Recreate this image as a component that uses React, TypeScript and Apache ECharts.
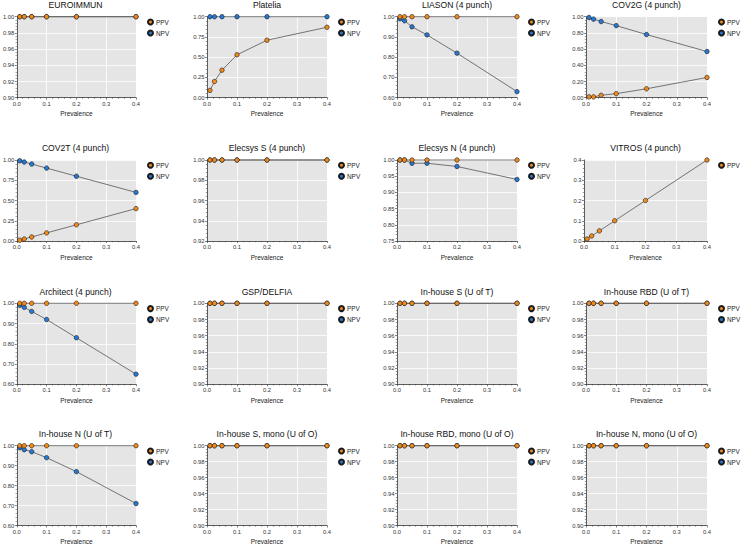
import React, { useEffect, useRef } from "react";
import * as echarts from "echarts";

const prevalence = [0.01, 0.025, 0.05, 0.1, 0.2, 0.4];

const panelTitles = [
  "EUROIMMUN",
  "Platelia",
  "LIASON (4 punch)",
  "COV2G (4 punch)",
  "COV2T (4 punch)",
  "Elecsys S (4 punch)",
  "Elecsys N (4 punch)",
  "VITROS (4 punch)",
  "Architect (4 punch)",
  "GSP/DELFIA",
  "In-house S (U of T)",
  "In-house RBD (U of T)",
  "In-house N (U of T)",
  "In-house S, mono (U of O)",
  "In-house RBD, mono (U of O)",
  "In-house N, mono (U of O)",
];

const euroimmunPPV = [1.0, 1.0, 1.0, 1.0, 1.0, 1.0];
const euroimmunNPV = [1.0, 1.0, 1.0, 1.0, 1.0, 1.0];
const plateliaPPV = [0.09, 0.2, 0.34, 0.53, 0.71, 0.87];
const plateliaNPV = [1.0, 1.0, 1.0, 1.0, 1.0, 1.0];
const liasonPPV = [1.0, 1.0, 1.0, 1.0, 1.0, 1.0];
const liasonNPV = [0.99, 0.98, 0.95, 0.91, 0.82, 0.63];
const cov2gPPV = [0.01, 0.01, 0.03, 0.05, 0.11, 0.25];
const cov2gNPV = [0.99, 0.97, 0.94, 0.89, 0.78, 0.57];
const cov2tPPV = [0.01, 0.025, 0.05, 0.1, 0.2, 0.4];
const cov2tNPV = [0.99, 0.975, 0.95, 0.9, 0.8, 0.6];
const elecsysSPPV = [1.0, 1.0, 1.0, 1.0, 1.0, 1.0];
const elecsysSNPV = [1.0, 1.0, 1.0, 1.0, 1.0, 1.0];
const elecsysNPPV = [1.0, 1.0, 1.0, 1.0, 1.0, 1.0];
const elecsysNNPV = [1.0, 1.0, 0.99, 0.99, 0.98, 0.94];
const vitrosPPV = [0.01, 0.025, 0.05, 0.1, 0.2, 0.4];
const architectPPV = [1.0, 1.0, 1.0, 1.0, 1.0, 1.0];
const architectNPV = [0.99, 0.98, 0.96, 0.92, 0.83, 0.65];
const gspPPV = [1.0, 1.0, 1.0, 1.0, 1.0, 1.0];
const gspNPV = [1.0, 1.0, 1.0, 1.0, 1.0, 1.0];
const inhouseSUofTPPV = [1.0, 1.0, 1.0, 1.0, 1.0, 1.0];
const inhouseSUofTNPV = [1.0, 1.0, 1.0, 1.0, 1.0, 1.0];
const inhouseRBDUofTPPV = [1.0, 1.0, 1.0, 1.0, 1.0, 1.0];
const inhouseRBDUofTNPV = [1.0, 1.0, 1.0, 1.0, 1.0, 1.0];
const inhouseNUofTPPV = [1.0, 1.0, 1.0, 1.0, 1.0, 1.0];
const inhouseNUofTNPV = [0.99, 0.98, 0.97, 0.94, 0.87, 0.71];
const inhouseSUofOPPV = [1.0, 1.0, 1.0, 1.0, 1.0, 1.0];
const inhouseSUofONPV = [1.0, 1.0, 1.0, 1.0, 1.0, 1.0];
const inhouseRBDUofOPPV = [1.0, 1.0, 1.0, 1.0, 1.0, 1.0];
const inhouseRBDUofONPV = [1.0, 1.0, 1.0, 1.0, 1.0, 1.0];
const inhouseNUofOPPV = [1.0, 1.0, 1.0, 1.0, 1.0, 1.0];
const inhouseNUofONPV = [1.0, 1.0, 1.0, 1.0, 1.0, 1.0];

const ppvSeries: number[][] = [
  euroimmunPPV, plateliaPPV, liasonPPV, cov2gPPV,
  cov2tPPV, elecsysSPPV, elecsysNPPV, vitrosPPV,
  architectPPV, gspPPV, inhouseSUofTPPV, inhouseRBDUofTPPV,
  inhouseNUofTPPV, inhouseSUofOPPV, inhouseRBDUofOPPV, inhouseNUofOPPV,
];
const npvSeries: (number[] | null)[] = [
  euroimmunNPV, plateliaNPV, liasonNPV, cov2gNPV,
  cov2tNPV, elecsysSNPV, elecsysNNPV, null,
  architectNPV, gspNPV, inhouseSUofTNPV, inhouseRBDUofTNPV,
  inhouseNUofTNPV, inhouseSUofONPV, inhouseRBDUofONPV, inhouseNUofONPV,
];

const yMins = [0.9, 0, 0.6, 0, 0, 0.92, 0.75, 0, 0.6, 0.9, 0.9, 0.9, 0.6, 0.9, 0.9, 0.9];
const yMaxs = [1, 1, 1, 1, 1, 1, 1, 0.4, 1, 1, 1, 1, 1, 1, 1, 1];
const yIntervals = [0.02, 0.25, 0.1, 0.2, 0.25, 0.02, 0.05, 0.1, 0.1, 0.02, 0.02, 0.02, 0.1, 0.02, 0.02, 0.02];
const yDecimals = [2, 2, 2, 2, 2, 2, 2, 1, 2, 2, 2, 2, 2, 2, 2, 2];
const xTicks = [0, 0.1, 0.2, 0.3, 0.4];

const ORANGE = "#f08a1e";
const BLUE = "#2878d2";
const AXIS = "#333333";
const FONT = "Liberation Sans, Arial, sans-serif";

const colLeft = [15, 207, 397, 586];
const colRight = [136, 327, 517, 707];
const rowTop = [16.7, 160, 303.3, 445.7];
const plotH = 81;

export default function App() {
  const ref = useRef<HTMLDivElement>(null);
  useEffect(() => {
    if (!ref.current) return;
    const chart = echarts.init(ref.current, undefined, { renderer: "svg" });
    const grids: any[] = [];
    const xAxes: any[] = [];
    const yAxes: any[] = [];
    const series: any[] = [];
    const legends: any[] = [];
    const graphics: any[] = [];
    for (let i = 0; i < 16; i++) {
      const r = Math.floor(i / 4);
      const c = i % 4;
      const left = i === 7 ? 584 : colLeft[c];
      const right = colRight[c];
      const top = rowTop[r];
      grids.push({
        left,
        top,
        width: right - left,
        height: plotH,
        show: true,
        backgroundColor: "#e5e5e5",
        borderWidth: 0,
      });
      xAxes.push({
        gridIndex: i,
        type: "value",
        min: xTicks[0],
        max: xTicks[xTicks.length - 1],
        interval: 0.1,
        name: "Prevalence",
        nameLocation: "middle",
        nameGap: 12.5,
        nameTextStyle: { fontSize: 6.5, color: "#222", fontFamily: FONT },
        axisLine: { show: true, onZero: false, lineStyle: { color: AXIS, width: 0.8 } },
        axisTick: { show: true, length: 2, lineStyle: { color: AXIS, width: 0.6 } },
        minorTick: { show: true, splitNumber: 5, length: 1.2, lineStyle: { color: AXIS, width: 0.5 } },
        axisLabel: {
          fontSize: 5.8,
          margin: 3,
          color: "#333",
          fontFamily: FONT,
          formatter: (v: number) => v.toFixed(1),
        },
        splitLine: { show: true, lineStyle: { color: "#ffffff", width: 0.8 } },
      });
      yAxes.push({
        gridIndex: i,
        type: "value",
        min: yMins[i],
        max: yMaxs[i],
        interval: yIntervals[i],
        axisLine: { show: true, onZero: false, lineStyle: { color: AXIS, width: 0.8 } },
        axisTick: { show: true, length: 2, lineStyle: { color: AXIS, width: 0.6 } },
        minorTick: { show: true, splitNumber: 5, length: 1.2, lineStyle: { color: AXIS, width: 0.5 } },
        axisLabel: {
          fontSize: 5.8,
          margin: 2.5,
          color: "#333",
          fontFamily: FONT,
          formatter: (v: number) => v.toFixed(yDecimals[i]),
        },
        splitLine: { show: true, lineStyle: { color: "#ffffff", width: 0.8 } },
      });
      const npv = npvSeries[i];
      if (npv) {
        series.push({
          type: "line",
          name: "NPV",
          xAxisIndex: i,
          yAxisIndex: i,
          data: prevalence.map((p, j) => [p, npv[j]]),
          symbol: "circle",
          symbolSize: 4.5,
          clip: false,
          z: 2,
          lineStyle: { color: "#555555", width: 0.8 },
          itemStyle: { color: BLUE, borderColor: "#1a1a1a", borderWidth: 0.6 },
        });
      }
      const ppv = ppvSeries[i];
      series.push({
        type: "line",
        name: "PPV",
        xAxisIndex: i,
        yAxisIndex: i,
        data: prevalence.map((p, j) => [p, ppv[j]]),
        symbol: "circle",
        symbolSize: 4.5,
        clip: false,
        z: 3,
        lineStyle: { color: "#555555", width: 0.8 },
        itemStyle: { color: ORANGE, borderColor: "#1a1a1a", borderWidth: 0.6 },
      });
      legends.push({
        show: true,
        orient: "vertical",
        left: right + 11,
        top: top + 1.8,
        padding: 0,
        itemWidth: 5,
        itemHeight: 5,
        itemGap: 4,
        icon: "circle",
        selectedMode: false,
        textStyle: { fontSize: 6.4, color: "#222", fontFamily: FONT, padding: [0, 0, 0, -2] },
        data: npv ? ["PPV", "NPV"] : ["PPV"],
      });
      graphics.push({
        type: "text",
        x: (left + right) / 2,
        y: top - 11.7,
        style: {
          text: panelTitles[i],
          align: "center",
          verticalAlign: "middle",
          fontSize: 8.6,
          fontWeight: "normal",
          fill: "#111",
          fontFamily: FONT,
        },
      });
    }
    chart.setOption({
      animation: false,
      backgroundColor: "#ffffff",
      grid: grids,
      xAxis: xAxes,
      yAxis: yAxes,
      series,
      legend: legends,
      graphic: graphics,
    });
    return () => chart.dispose();
  }, []);
  return (
    <div
      ref={ref}
      style={{ position: "absolute", left: 0, top: 0, width: 741, height: 546 }}
    />
  );
}
